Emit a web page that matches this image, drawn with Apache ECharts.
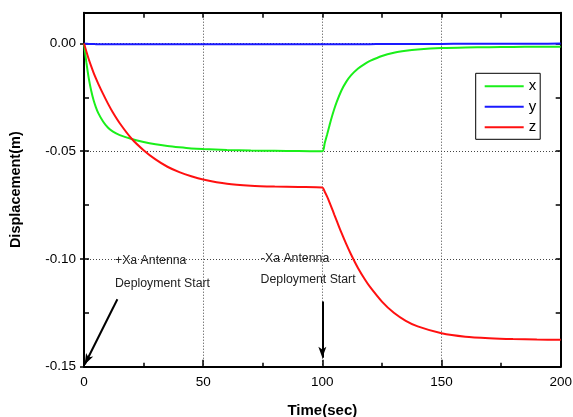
<!DOCTYPE html>
<html>
<head>
<meta charset="utf-8">
<script src="https://cdn.jsdelivr.net/npm/echarts@6/dist/echarts.min.js"></script>
<style>html,body{margin:0;padding:0;background:#fff}#c{width:573px;height:417px}</style>
</head>
<body>
<div id="c"></div>
<script>
const times = [0,1,2,3,4,5,6,8,10,12,15,20,25,30,35,40,45,50,60,70,80,90,100,101,102,103,104,105,106,108,110,112,115,118,120,125,130,135,140,150,160,170,180,190,200];
const xDisp = [0,-0.0088,-0.0162,-0.0218,-0.0262,-0.0296,-0.0323,-0.0362,-0.039,-0.0408,-0.0425,-0.0443,-0.0457,-0.0468,-0.0476,-0.0482,-0.0487,-0.049,-0.0494,-0.0497,-0.0498,-0.0499,-0.05,
  -0.0462,-0.0422,-0.038,-0.034,-0.0304,-0.0272,-0.0218,-0.0178,-0.0148,-0.0116,-0.0093,-0.0081,-0.0058,-0.0043,-0.0034,-0.0028,-0.0021,-0.0018,-0.0017,-0.0016,-0.0015,-0.0015];
const yDisp = [0,-0.0001,-0.0002,-0.0002,-0.0002,-0.0003,-0.0003,-0.0003,-0.0003,-0.0003,-0.0003,-0.0003,-0.0003,-0.0003,-0.0003,-0.0003,-0.0003,-0.0003,-0.0003,-0.0003,-0.0003,-0.0003,-0.0003,
  -0.0003,-0.0003,-0.0003,-0.0003,-0.0003,-0.0003,-0.0003,-0.0003,-0.0003,-0.0003,-0.0003,-0.0003,-0.0002,-0.0002,-0.0002,-0.0002,-0.0002,-0.0001,-0.0001,-0.0001,-0.0001,0];
const zDisp = [0,-0.0037,-0.0073,-0.0105,-0.0135,-0.0162,-0.0187,-0.0234,-0.0278,-0.0318,-0.037,-0.0442,-0.0495,-0.0538,-0.0572,-0.0597,-0.0616,-0.0631,-0.0651,-0.066,-0.0664,-0.0666,-0.0668,
  -0.0688,-0.0711,-0.0737,-0.0765,-0.0794,-0.0822,-0.0878,-0.093,-0.0978,-0.1043,-0.1098,-0.113,-0.1198,-0.125,-0.1287,-0.1313,-0.1345,-0.1361,-0.1368,-0.1372,-0.1374,-0.1375];
const seriesNames = ['x','y','z'];
const xTickLabels = ['0','50','100','150','200'];
const yTickLabels = ['-0.15','-0.10','-0.05','0.00'];
// annotations (data coordinates)
const noteTexts = ['+Xa Antenna','Deployment Start','-Xa Antenna','Deployment Start'];
const notePos = [[13.0,-0.1009],[13.0,-0.1113],[74.2,-0.0998],[74.1,-0.1094]];
const arrows = [[[14.0,-0.1187],[0.3,-0.1490]],[[100,-0.1197],[100,-0.1458]]];

const FONT = 'Liberation Sans, Arial, sans-serif';
const colors = ['#1aef1a','#1a1aff','#ff1010'];
const dataSets = [xDisp,yDisp,zDisp];

const chart = echarts.init(document.getElementById('c'), null, {renderer:'canvas'});
const axisLineStyle = {color:'#000', width:2};
const series = seriesNames.map((n,i)=>({
  name:n, type:'line', xAxisIndex:0, yAxisIndex:0,
  data: times.map((t,k)=>[t,dataSets[i][k]]),
  showSymbol:false, symbol:'none', smooth:0.25,
  lineStyle:{color:colors[i], width:2}, itemStyle:{color:colors[i]},
  emphasis:{disabled:true}, z: 3+i
}));
series[2].markLine = {
  silent:true, symbol:['none','arrow'], symbolSize:[6,11],
  label:{show:false}, emphasis:{disabled:true},
  lineStyle:{color:'#000', width:2, type:'solid'},
  data: arrows.map(a=>[{coord:a[0]},{coord:a[1]}])
};
const option = {
  animation:false,
  backgroundColor:'#fff',
  grid:{left:84, right:12.3, top:12.7, bottom:50.3, containLabel:false, outerBoundsMode:'none'},
  legend:{
    data:seriesNames, orient:'vertical', left:475.7, top:73.3,
    icon:'rect', itemWidth:39, itemHeight:2, itemGap:4.5, itemTextGap:5,
    padding:[5,4,4,9], borderColor:'#000', borderWidth:1, backgroundColor:'#fff',
    textStyle:{fontFamily:FONT, fontSize:15, color:'#000', lineHeight:16},
    selectedMode:false
  },
  xAxis:[
    {type:'value', position:'bottom', min:0, max:200, interval:50,
     axisLine:{show:true, onZero:false, lineStyle:axisLineStyle},
     axisTick:{show:true, inside:true, length:7, lineStyle:{color:'#000', width:1.5}},
     minorTick:{show:true, splitNumber:2, length:4, lineStyle:{color:'#000', width:1.5}},
     axisLabel:{color:'#000', fontFamily:FONT, fontSize:13.5, margin:9,
       formatter:(v)=>{const s=String(Math.round(v)); return xTickLabels.includes(s)?s:'';}},
     splitLine:{show:true, lineStyle:{color:'#444', width:1, type:[1,2]}},
     name:'Time(sec)', nameLocation:'middle', nameGap:37,
     nameTextStyle:{fontFamily:FONT, fontSize:15, fontWeight:'bold', color:'#000'}},
    {type:'value', position:'top', min:0, max:200, interval:25,
     axisLine:{show:true, onZero:false, lineStyle:axisLineStyle},
     axisTick:{show:true, inside:true, length:5, lineStyle:{color:'#000', width:1.5}},
     axisLabel:{show:false}, splitLine:{show:false}}
  ],
  yAxis:[
    {type:'value', position:'left', min:-0.15, max:0.0143, interval:0.05,
     axisLine:{show:true, onZero:false, lineStyle:axisLineStyle},
     axisTick:{show:true, inside:false, length:4, lineStyle:{color:'#000', width:1.5}},
     axisLabel:{color:'#000', fontFamily:FONT, fontSize:13.5, margin:8, showMaxLabel:false,
       formatter:(v)=>{const s=(Math.abs(v)<1e-9?0:v).toFixed(2); return yTickLabels.includes(s)?s:'';}},
     splitLine:{show:true, lineStyle:{color:'#444', width:1, type:[1,2]}},
     name:'Displacement(m)', nameLocation:'middle', nameGap:61,
     nameTextStyle:{fontFamily:FONT, fontSize:14.5, fontWeight:'bold', color:'#000'}},
    {type:'value', position:'left', min:-0.15, max:0.0143, interval:0.025,
     axisLine:{show:false},
     axisTick:{show:true, inside:true, length:5, lineStyle:{color:'#000', width:1.5}},
     axisLabel:{show:false}, splitLine:{show:false}},
    {type:'value', position:'right', min:-0.15, max:0.0143, interval:0.025,
     axisLine:{show:true, onZero:false, lineStyle:axisLineStyle},
     axisTick:{show:true, inside:true, length:5, lineStyle:{color:'#000', width:1.5}},
     axisLabel:{show:false}, splitLine:{show:false}}
  ],
  series: series
};
chart.setOption(option);
const graphics = noteTexts.map((txt,i)=>{
  const p = chart.convertToPixel({xAxisIndex:0, yAxisIndex:0}, notePos[i]);
  return {type:'text', x:p[0], y:p[1], z:10, silent:true,
    style:{text:txt, fill:'#222', font:'12.3px '+FONT, align:'left', verticalAlign:'middle'}};
});
chart.setOption({graphic:graphics});
</script>
</body>
</html>
